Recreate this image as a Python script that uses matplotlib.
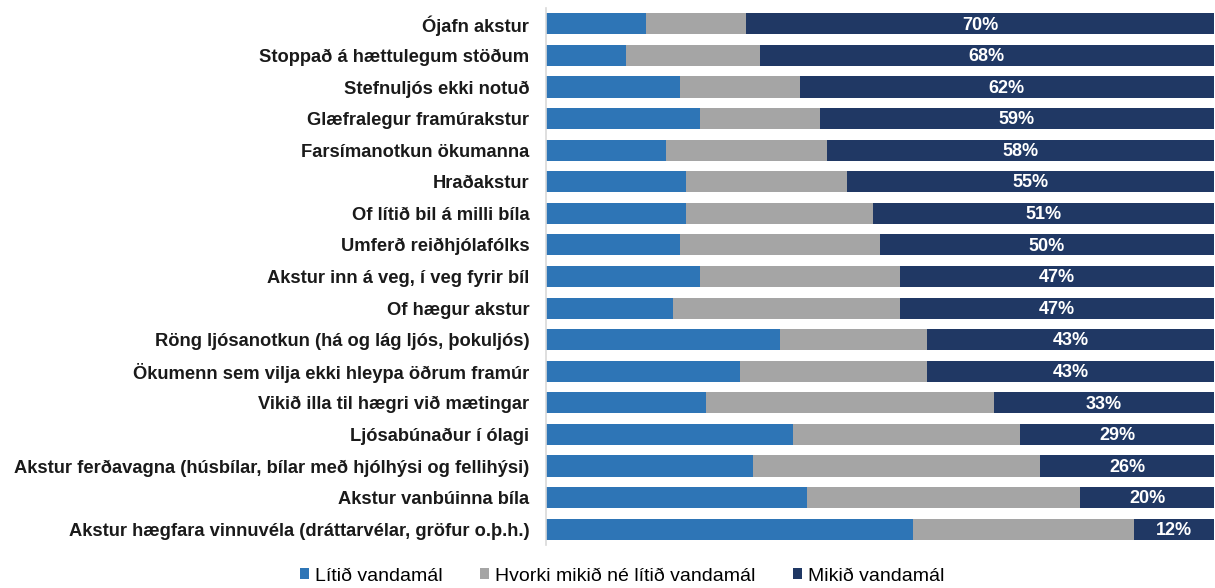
import matplotlib
matplotlib.use("Agg")
import matplotlib.pyplot as plt
from matplotlib.patches import Patch
import numpy as np

categories = [
    "Ójafn akstur",
    "Stoppað á hættulegum stöðum",
    "Stefnuljós ekki notuð",
    "Glæfralegur framúrakstur",
    "Farsímanotkun ökumanna",
    "Hraðakstur",
    "Of lítið bil á milli bíla",
    "Umferð reiðhjólafólks",
    "Akstur inn á veg, í veg fyrir bíl",
    "Of hægur akstur",
    "Röng ljósanotkun (há og lág ljós, þokuljós)",
    "Ökumenn sem vilja ekki hleypa öðrum framúr",
    "Vikið illa til hægri við mætingar",
    "Ljósabúnaður í ólagi",
    "Akstur ferðavagna (húsbílar, bílar með hjólhýsi og fellihýsi)",
    "Akstur vanbúinna bíla",
    "Akstur hægfara vinnuvéla (dráttarvélar, gröfur o.þ.h.)",
]
litid = [15, 12, 20, 23, 18, 21, 21, 20, 23, 19, 35, 29, 24, 37, 31, 39, 55]
hvorki = [15, 20, 18, 18, 24, 24, 28, 30, 30, 34, 22, 28, 43, 34, 43, 41, 33]
mikid = [70, 68, 62, 59, 58, 55, 51, 50, 47, 47, 43, 43, 33, 29, 26, 20, 12]
series_names = ["Lítið vandamál", "Hvorki mikið né lítið vandamál", "Mikið vandamál"]
colors = ["#2E75B6", "#A5A5A5", "#203864"]

fig = plt.figure(figsize=(12.15, 5.88), dpi=100)
ax = fig.add_axes([546/1215, 1-545/588, (1214-546)/1215, (545-8)/588])

y = np.arange(len(categories))
litid_a = np.array(litid)
hvorki_a = np.array(hvorki)
mikid_a = np.array(mikid)
h = 0.67
ax.barh(y, litid_a, height=h, color=colors[0], edgecolor="none")
ax.barh(y, hvorki_a, left=litid_a, height=h, color=colors[1], edgecolor="none")
ax.barh(y, mikid_a, left=litid_a + hvorki_a, height=h, color=colors[2], edgecolor="none")

for yi, l, w in zip(y, litid_a + hvorki_a, mikid_a):
    ax.text(l + w/2, yi + 0.04, f"{w}%", ha="center", va="center", color="white",
            fontsize=13, fontweight="bold", family=["Liberation Sans", "DejaVu Sans"])

ax.set_xlim(0, 100)
ax.set_ylim(len(categories) - 0.5, -0.5)
ax.set_yticks(y)
ax.set_yticklabels(categories, fontsize=13.2, fontweight="bold", family=["Liberation Sans", "DejaVu Sans"], color="#1a1a1a")
ax.tick_params(axis="y", length=0, pad=12)
ax.set_xticks([])
for s in ["top", "right", "bottom"]:
    ax.spines[s].set_visible(False)
ax.spines["left"].set_color("#D9D9D9")
ax.spines["left"].set_linewidth(1.2)

handles = [Patch(facecolor=c, edgecolor="none") for c in colors]
fig.legend(handles, series_names, loc="center", bbox_to_anchor=(0.512, 0.02), ncol=3,
           frameon=False, prop={"family": ["Liberation Sans", "DejaVu Sans"], "size": 14},
           handlelength=0.5, handleheight=0.5, handletextpad=0.3, columnspacing=1.9)

fig.savefig("out.png", dpi=100)
